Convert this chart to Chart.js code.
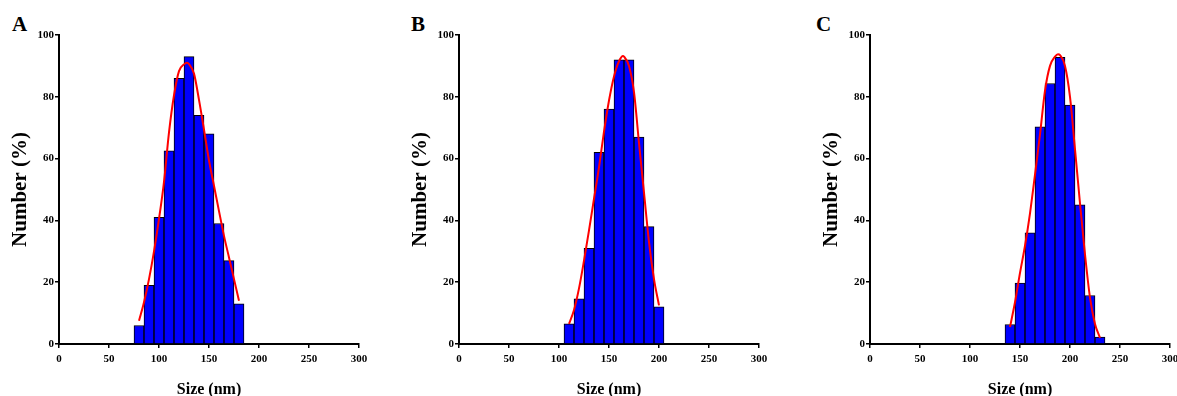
<!DOCTYPE html>
<html>
<head>
<meta charset="utf-8">
<script src="https://cdn.jsdelivr.net/npm/chart.js@4.4.1/dist/chart.umd.min.js"></script>
<style>
  html, body { margin: 0; padding: 0; background: #fff; }
  body { width: 1177px; height: 396px; position: relative; overflow: hidden; }
  canvas { position: absolute; top: 0; }
  .lbl { position: absolute; font-family: 'Liberation Serif', 'Times New Roman', serif; font-weight: bold; font-size: 21px; line-height: 1; color: #000; }
</style>
</head>
<body>
<div class="lbl" style="left:12px;top:14px;">A</div>
<div class="lbl" style="left:411px;top:14px;">B</div>
<div class="lbl" style="left:816px;top:14px;">C</div>
<canvas id="cA" width="390" height="396" style="left:0px"></canvas>
<canvas id="cB" width="390" height="396" style="left:400px"></canvas>
<canvas id="cC" width="390" height="396" style="left:811px"></canvas>
<script>
// ---- Data ----
const xTicks = [0, 50, 100, 150, 200, 250, 300];
const yTicks = [0, 20, 40, 60, 80, 100];

// Panel A
const barXA = [80, 90, 100, 110, 120, 130, 140, 150, 160, 170, 180];
const barYA = [6, 19, 41, 62.5, 86, 93, 74, 68, 39, 27, 13];
const curveXA = [80, 85, 90, 95, 100, 105, 110, 115, 120, 125, 128, 130, 135, 140, 145, 150, 155, 160, 165, 170, 175, 180];
const curveYA = [7.5, 13.5, 21, 30, 40.5, 52.5, 68.5, 80.5, 88.3, 90.5, 91, 90.6, 87.5, 79, 69.4, 59.4, 51.2, 43, 35, 28, 21, 14];

// Panel B
const barXB = [110, 120, 130, 140, 150, 160, 170, 180, 190, 200];
const barYB = [6.5, 14.6, 31, 62, 76, 92, 92, 67, 38, 12];
const curveXB = [110, 115, 120, 125, 130, 135, 140, 145, 150, 155, 160, 164, 165, 170, 175, 180, 185, 190, 195, 200];
const curveYB = [6.5, 11, 18, 27, 36.8, 47, 57.2, 68.7, 78.8, 86.6, 91.5, 93.2, 93, 90, 81.5, 65, 49, 33, 21, 12.5];

// Panel C
const barXC = [140, 150, 160, 170, 180, 190, 200, 210, 220, 230];
const barYC = [6.3, 19.7, 36, 70.3, 84.3, 92.8, 77.3, 45, 15.7, 2.2];
const curveXC = [140, 145, 150, 155, 160, 165, 170, 175, 180, 185, 188, 190, 195, 200, 205, 210, 215, 220, 225, 230];
const curveYC = [5.5, 13.5, 23, 31.8, 42.3, 54.8, 67.8, 82, 90, 93, 93.8, 93.5, 90, 80, 63, 45.5, 29, 15, 6.5, 2];

const xTitle = 'Size (nm)';
const yTitle = 'Number (%)';

// ---- Chart building ----
Chart.defaults.font.family = "'Liberation Serif', 'Times New Roman', serif";
Chart.defaults.font.weight = 'bold';
Chart.defaults.color = '#000';

function pts(xs, ys) { return xs.map((x, i) => ({ x: x, y: ys[i] })); }

function makeChart(id, barX, barY, curveX, curveY, padRight) {
  const ctx = document.getElementById(id);
  return new Chart(ctx, {
    data: {
      datasets: [
        {
          type: 'line',
          data: pts(curveX, curveY),
          borderColor: '#FF0000',
          borderWidth: 2,
          pointRadius: 0,
          fill: false,
          cubicInterpolationMode: 'monotone',
          order: 0
        },
        {
          type: 'bar',
          data: pts(barX, barY),
          backgroundColor: '#0000FF',
          borderColor: '#000000',
          borderWidth: 1,
          borderSkipped: 'bottom',
          barPercentage: 1.0,
          categoryPercentage: 1.0,
          order: 1
        }
      ]
    },
    options: {
      responsive: false,
      animation: false,
      devicePixelRatio: 1,
      layout: { padding: { top: 35, right: padRight, left: 0, bottom: 0 } },
      plugins: { legend: { display: false }, tooltip: { enabled: false } },
      scales: {
        x: {
          type: 'linear',
          min: 0, max: 300,
          offset: false,
          afterBuildTicks: (s) => { s.ticks = xTicks.map(v => ({ value: v })); },
          ticks: { font: { size: 11, weight: 'bold' }, padding: 5, maxRotation: 0, autoSkip: false },
          grid: { offset: false, drawOnChartArea: false, drawTicks: true, tickLength: 4, color: '#000', lineWidth: 1.5 },
          border: { display: true, color: '#000', width: 2 },
          title: { display: true, text: xTitle, font: { size: 16, weight: 'bold', lineHeight: 0.75 }, padding: { top: 0, bottom: 0 } },
          afterFit: (s) => { s.height = 52; s.paddingLeft = 0; s.paddingRight = 0; }
        },
        y: {
          type: 'linear',
          min: 0, max: 100,
          afterBuildTicks: (s) => { s.ticks = yTicks.map(v => ({ value: v })); },
          ticks: { font: { size: 11, weight: 'bold' }, padding: 1 },
          grid: { drawOnChartArea: false, drawTicks: true, tickLength: 4, color: '#000', lineWidth: 1.5 },
          border: { display: true, color: '#000', width: 2 },
          title: { display: true, text: yTitle, font: { size: 21, weight: 'bold', lineHeight: 1 }, padding: { top: 10, bottom: 0 } },
          afterFit: (s) => { s.width = 59; s.paddingTop = 0; s.paddingBottom = 0; }
        }
      }
    }
  });
}

makeChart('cA', barXA, barYA, curveXA, curveYA, 31);
makeChart('cB', barXB, barYB, curveXB, curveYB, 31);
makeChart('cC', barXC, barYC, curveXC, curveYC, 31);
</script>
</body>
</html>
